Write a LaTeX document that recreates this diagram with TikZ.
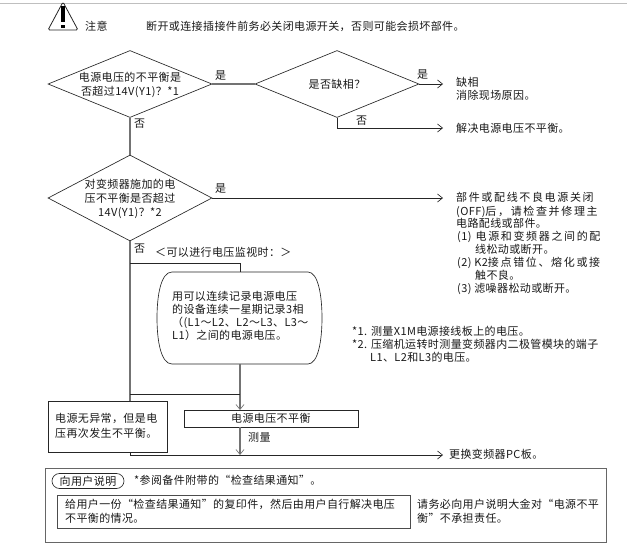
\documentclass[tikz,border=0pt]{standalone}
\usepackage{fontspec}
\usetikzlibrary{shapes.geometric,shapes.misc,arrows.meta}
\newfontfamily\cjk[LetterSpace=3.5]{Noto Sans CJK SC}
\newfontfamily\cjkw[LetterSpace=15]{Noto Sans CJK SC}
\tikzset{
  line/.style={draw=black!85,line width=0.65pt},
  soft/.style={draw=black!55,line width=1.1pt},
  arr/.style={line,-{Straight Barb[length=5pt,width=8pt,line width=0.65pt]}},
  softarr/.style={soft,-{Straight Barb[length=5pt,width=8pt,line width=0.65pt]}},
  dia/.style={diamond,line,inner sep=0pt,minimum width=164pt,minimum height=67pt},
  t/.style={inner sep=0pt,text height=9pt,text depth=2pt,font=\fontsize{11}{13}\cjk,text=black!90,anchor=west},
  tc/.style={t,anchor=center},
  tw/.style={t,font=\fontsize{11}{13}\cjkw},
  boxn/.style={rectangle,line,inner sep=0pt,anchor=north west},
}
\begin{document}
\begin{tikzpicture}[x=1pt,y=-1pt]
\useasboundingbox (0,0) rectangle (627,544);
\fill[white] (0,0) rectangle (627,544);
\draw[draw=black!25,line width=0.8pt] (0,3) -- (627,3);
% warning
\draw[line,line width=0.8pt,rounded corners=1.5pt] (63,2) -- (48,30) -- (78,30) -- cycle;
\fill[black] (61.2,6) rectangle (64.8,22);
\fill[black] (61.2,24.5) rectangle (64.8,28);
\node[t] (note) at (85,27) {注意};
\node[t] (warn) at (146,27) {断开或连接插接件前务必关闭电源开关，否则可能会损坏部件。};
% decisions
\node[dia] (d1) at (130,84) {};
\node[tc] (d1a) at (130,78) {电源电压的不平衡是};
\node[tc] (d1b) at (130,92) {否超过14V(Y1)？*1};
\node[dia] (d2) at (337,84) {};
\node[tc] (d2a) at (337,85) {是否缺相？};
\node[dia,minimum height=86pt] (d3) at (130,198) {};
\node[tc] (d3a) at (130,185) {对变频器施加的电};
\node[tc] (d3b) at (130,199) {压不平衡是否超过};
\node[tc] (d3c) at (130,213) {14V(Y1)？*2};
\draw[soft] (d1.east) -- (d2.west);
\draw[soft] (d1.south) -- (d3.north);
\node[t] (y1) at (215,76) {是};
\node[t] (n1) at (134,124) {否};
\node[t] (y2) at (417,75) {是};
\node[t] (n2) at (356,121) {否};
\node[t] (y3) at (215,189) {是};
\node[t] (n3) at (134,249) {否};
% right results
\coordinate (a1) at (443,84);
\coordinate (a2) at (443,128);
\coordinate (a3) at (443,198);
\coordinate (e2) at (337,128);
\draw[arr] (d2.east) -- (a1);
\draw[arr] (d2.south) -- (e2) -- (a2);
\draw[arr] (d3.east) -- (a3);
\node[t] (r1) at (456,83) {缺相};
\node[t] (r2) at (456,96) {消除现场原因。};
\node[t] (r3) at (456,129) {解决电源电压不平衡。};
\node[tw] (w1) at (456,198) {部件或配线不良电源关闭};
\node[tw] (w2) at (456,212) {{\cjk(OFF)}后，请检查并修理主};
\node[t] (w3) at (456,224) {电路配线或部件。};
\node[tw] (w4) at (457,237) {{\cjk(1)} 电源和变频器之间的配};
\node[t] (w5) at (475,250) {线松动或断开。};
\node[tw] (w6) at (457,263) {{\cjk(2) K2}接点错位、熔化或接};
\node[t] (w7) at (475,276) {触不良。};
\node[t] (w8) at (457,289) {(3) 滤噪器松动或断开。};
% monitoring
\node[t] (mon) at (155,253) {＜可以进行电压监视时：＞};
\node[inner sep=0pt,minimum width=165pt,minimum height=92pt] (rb) at (239.5,318) {};
\draw[line] (172,272) -- (308,272) .. controls (318,272) and (322,295) .. (322,318)
  .. controls (322,341) and (318,364) .. (308,364) -- (172,364)
  .. controls (161,364) and (157,341) .. (157,318)
  .. controls (157,295) and (161,272) .. (172,272) -- cycle;
\node[t] (m1) at (172,297) {用可以连续记录电源电压};
\node[t] (m2) at (172,310) {的设备连续一星期记录3相};
\node[t] (m3) at (172,323) {（(L1～L2、L2～L3、L3～};
\node[t] (m4) at (172,336) {L1）之间的电源电压。};
\coordinate (j1) at (130,263);
\coordinate (j2) at (240,263);
\coordinate (rt) at (240,272);
\coordinate (rbm) at (240,364);
\coordinate (j3) at (130,394);
\coordinate (j4) at (240,394);
\node[boxn,minimum width=174pt,minimum height=17pt] (ub) at (184,410) {};
\node[t] (ubt) at (231,418.5) {电源电压不平衡};
\node[boxn,fill=white,minimum width=119pt,minimum height=51pt] (lb) at (47.5,401) {};
\coordinate (lbt) at (130,401);
\coordinate (lbb) at (130,452);
\coordinate (j5) at (130,455);
\coordinate (j6) at (240,455);
\coordinate (a4) at (443,455);
\coordinate (ubb) at (240,427);
\coordinate (ubt2) at (240,410);
\draw[soft] (d3.south) -- (lbt);
\draw[line] (j1) -- (j2) -- (rt);
\draw[softarr] (rbm) -- (ubt2);
\draw[line] (j3) -- (j4);
\draw[softarr] (ubb) -- (j6);
\draw[line] (lbb) -- (j5);
\draw[arr] (j5) -- (a4);
\node[t] (l1) at (55,419) {电源无异常，但是电};
\node[t] (l2) at (55,434) {压再次发生不平衡。};
\node[t] (meas) at (248,438) {测量};
\node[t] (rep) at (449,455) {更换变频器PC板。};
% footnotes
\node[t] (f1) at (352,332) {*1. 测量X1M电源接线板上的电压。};
\node[t] (f2) at (352,345) {*2. 压缩机运转时测量变频器内二极管模块的端子};
\node[t] (f3) at (370,358) {L1、L2和L3的电压。};
% lower box
\node[boxn,draw=black!60,minimum width=561pt,minimum height=74pt] (ob) at (45,468) {};
\node[rounded rectangle,line,inner sep=0pt,minimum width=72pt,minimum height=15pt,font=\fontsize{11}{13}\cjk,text=black!90] (ex) at (88,481) {向用户说明};
\node[t] (ref) at (134,481) {*参阅备件附带的“检查结果通知”。};
\node[boxn,draw=black!70,minimum width=353pt,minimum height=33pt] (ib) at (57,495) {};
\node[t] (i1) at (65,505) {给用户一份“检查结果通知”的复印件，然后由用户自行解决电压};
\node[t] (i2) at (65,519) {不平衡的情况。};
\node[t] (o1) at (417,505) {请务必向用户说明大金对“电源不平};
\node[t] (o2) at (417,519) {衡”不承担责任。};
\end{tikzpicture}
\end{document}
